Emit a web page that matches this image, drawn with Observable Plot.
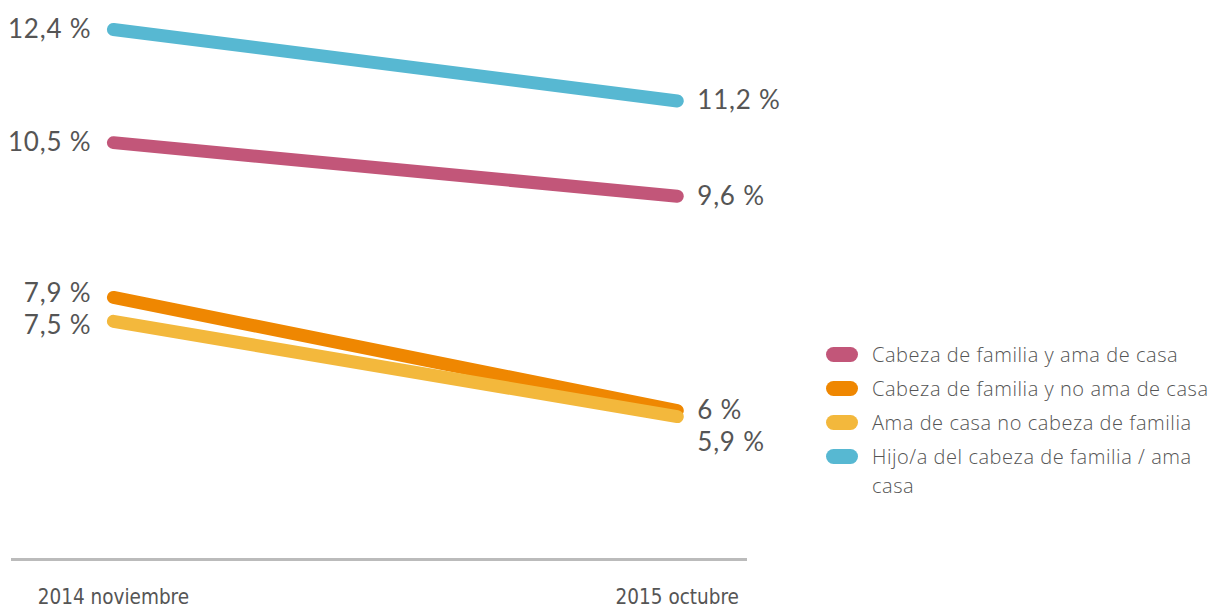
<!DOCTYPE html>
<html><head><meta charset="utf-8">
<script src="https://cdn.jsdelivr.net/npm/d3@7"></script>
<script src="https://cdn.jsdelivr.net/npm/@observablehq/plot@0.6"></script>
<style>
body{margin:0;background:#fff;}
#wrap{position:relative;width:1226px;height:609px;overflow:hidden;}
#chart{position:absolute;left:0;top:0;}
#chart svg g.vlab, #chart svg g.vlab text{font-family:Lato,"Open Sans",sans-serif;font-weight:400;letter-spacing:0.8px;}
#legend{position:absolute;left:826px;top:340px;width:400px;font-family:"Open Sans",sans-serif;font-weight:300;font-size:20px;letter-spacing:0.55px;color:#555;}
.row{display:flex;align-items:flex-start;margin-bottom:5px;line-height:29px;}
.sw{width:32px;height:15px;border-radius:8px;margin-right:14px;margin-top:7px;flex:none;}
.lab{max-width:354px;}
</style>
</head><body>
<div id="wrap"><div id="chart"></div><div id="legend"></div></div>
<script>
const periods = ["2014 noviembre", "2015 octubre"];
const series = [
  "Cabeza de familia y ama de casa",
  "Cabeza de familia y no ama de casa",
  "Ama de casa no cabeza de familia",
  "Hijo/a del cabeza de familia / ama casa"
];
const colors = ["#C25679", "#EF8701", "#F3B83C", "#57B8D2"];
const valuesStart = [10.5, 7.9, 7.5, 12.4];
const valuesEnd = [9.6, 6, 5.9, 11.2];

const data = [];
series.forEach((s, i) => {
  data.push({series: s, xi: 0, value: valuesStart[i]});
  data.push({series: s, xi: 1, value: valuesEnd[i]});
});
const fmt = v => v.toLocaleString("es-ES") + " %";

const W = 800, H = 609, mT = 29, mB = 50, mL = 12, mR = 55;
const yDomain = [3.5, 12.4];
const yPix = d3.scaleLinear(yDomain, [H - mB, mT]);
const minSep = 32;

// label collision handling (pixel offsets computed from the same y mapping)
const left = data.filter(d => d.xi === 0).sort((a, b) => b.value - a.value);
const right = data.filter(d => d.xi === 1).sort((a, b) => b.value - a.value);
left.forEach(d => d.dy = 0);
right.forEach(d => d.dy = 0);
for (let k = 1; k < left.length; k++) {
  const gap = yPix(left[k].value) - yPix(left[k - 1].value);
  if (gap < minSep) { const push = (minSep - gap) / 2; left[k - 1].dy -= push; left[k].dy += push; }
}
for (let k = 1; k < right.length; k++) {
  const gap = (yPix(right[k].value) + right[k].dy) - (yPix(right[k - 1].value) + right[k - 1].dy);
  if (gap < minSep) right[k].dy += minSep - gap;
}

const labelSize = 26;
const labelMarks = [
  ...left.map(d => Plot.text([d], {x: "xi", y: "value", text: d => fmt(d.value), textAnchor: "end", dx: -22, dy: d.dy, fontSize: labelSize, fill: "#555", className: "vlab"})),
  ...right.map(d => Plot.text([d], {x: "xi", y: "value", text: d => fmt(d.value), textAnchor: "start", dx: 20, dy: d.dy, fontSize: labelSize, fill: "#555", className: "vlab"}))
];

const chart = Plot.plot({
  width: W,
  height: H,
  marginTop: mT,
  marginBottom: mB,
  marginLeft: mL,
  marginRight: mR,
  style: {fontFamily: "Open Sans", background: "transparent"},
  x: {domain: [-0.179, 1.121]},
  y: {domain: yDomain, axis: null},
  color: {domain: series, range: colors},
  marks: [
    Plot.frame({anchor: "bottom", stroke: "#bbb", strokeWidth: 3}),
    Plot.axisX({ticks: [0, 1], tickSize: 0, tickPadding: 30, tickFormat: i => periods[i],
      fontSize: 20.5, fontFamily: "DejaVu Sans Condensed", fill: "#555", label: null}),
    Plot.line(data, {x: "xi", y: "value", z: "series", stroke: "series", strokeWidth: 13, strokeLinecap: "round"}),
    ...labelMarks
  ]
});
document.getElementById("chart").appendChild(chart);

const leg = document.getElementById("legend");
series.forEach((s, i) => {
  const row = document.createElement("div");
  row.className = "row";
  const sw = document.createElement("div");
  sw.className = "sw";
  sw.style.background = colors[i];
  const lab = document.createElement("div");
  lab.className = "lab";
  lab.textContent = s;
  row.appendChild(sw); row.appendChild(lab);
  leg.appendChild(row);
});
</script>
</body></html>
